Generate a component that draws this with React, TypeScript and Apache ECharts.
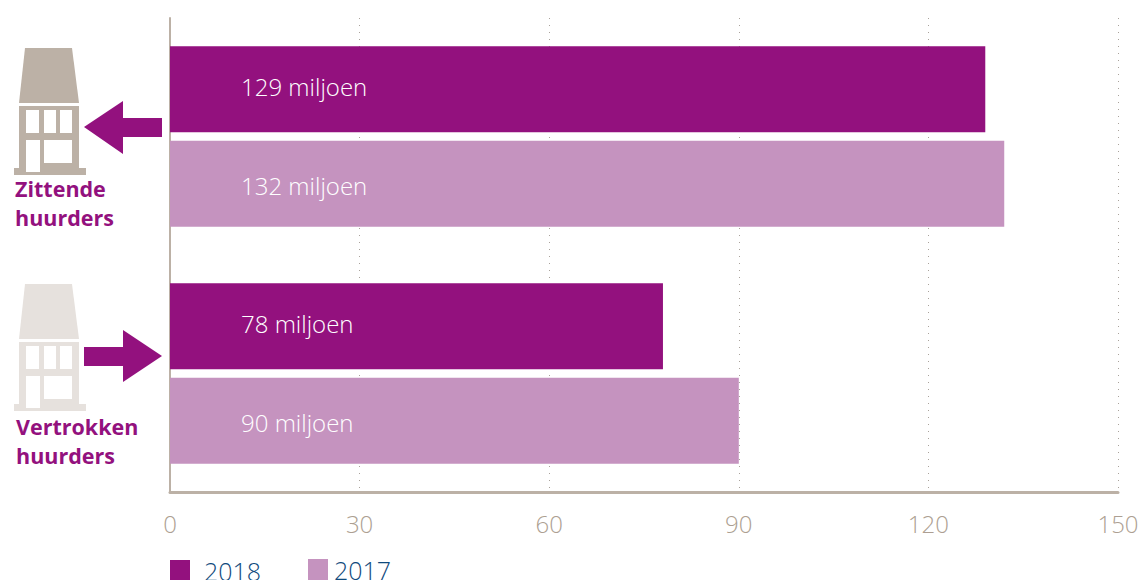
import React, { useEffect, useRef } from "react";
import * as echarts from "echarts";

const categories = ["Zittende huurders", "Vertrokken huurders"];
const values2018 = [129, 78];
const values2017 = [132, 90];
const tickMax = 150;
const tickStep = 30;

const PURPLE = "#93117e";
const LILAC = "#c593bf";
const TAN = "#bcb1a6";
const TICK_TEXT = "#ad9f92";
const PALE = "#e6e1dd";
const BLUE = "#0f4a7d";

// House outline in local units: roof, then facade with window openings cut out.
const houseRoof = "M11 0 L58 0 L65 55 L5 55 Z";
const houseFacade =
  "M5 58 L65 58 L65 120 L72 120 L72 127 L0 127 L0 120 L5 120 Z " +
  "M12 62 L12 85 L25 85 L25 62 Z M30 62 L30 85 L42 85 L42 62 Z M46 62 L46 85 L58 85 L58 62 Z " +
  "M12 92 L12 124 L26 124 L26 92 Z M30 92 L30 115 L58 115 L58 92 Z";
echarts.graphic.registerShape("houseRoof", echarts.graphic.extendPath(houseRoof, {}));
echarts.graphic.registerShape("houseFacade", echarts.graphic.extendPath(houseFacade, {}));

const FONT = "'Open Sans', sans-serif";

const house = (x: number, y: number, fill: string) => ({
  type: "group",
  x,
  y,
  children: [
    { type: "houseRoof", style: { fill } },
    { type: "houseFacade", style: { fill, fillRule: "evenodd" } },
  ],
});

const sideLabel = (text: string, x: number, y: number) => ({
  type: "text",
  x,
  y,
  style: { text, fill: PURPLE, font: `bold 21.5px ${FONT}`, lineHeight: 29 },
});

const valueLabel = (dy: number) => ({
  show: true,
  position: "insideLeft" as const,
  distance: 71,
  offset: [0, dy],
  color: "#ffffff",
  fontFamily: FONT,
  fontWeight: 300,
  fontSize: 24,
  formatter: "{c} miljoen",
});

export default function App() {
  const ref = useRef<HTMLDivElement>(null);
  useEffect(() => {
    const chart = echarts.init(ref.current!, undefined, { renderer: "svg" });
    chart.setOption({
      animation: false,
      grid: { left: 170, top: 18, right: 29, height: 474 },
      legend: [
        {
          data: ["2018"],
          left: 170,
          top: 558,
          padding: 0,
          itemWidth: 20,
          itemHeight: 21,
          icon: "rect",
          textStyle: {
            color: BLUE,
            fontFamily: FONT,
            fontWeight: 300,
            fontSize: 25,
            lineHeight: 17,
            padding: [0, 0, 8, 9],
          },
        },
        {
          data: ["2017"],
          left: 308,
          top: 557,
          padding: 0,
          itemWidth: 20,
          itemHeight: 21,
          icon: "rect",
          textStyle: {
            color: BLUE,
            fontFamily: FONT,
            fontWeight: 300,
            fontSize: 25,
            lineHeight: 17,
            padding: [2, 0, 2, 1],
          },
        },
      ],
      xAxis: {
        type: "value",
        min: 0,
        max: tickMax,
        interval: tickStep,
        axisLine: { show: true, lineStyle: { color: TAN, width: 3 } },
        axisTick: { show: false },
        axisLabel: { color: TICK_TEXT, fontFamily: FONT, fontWeight: 300, fontSize: 24, margin: 19 },
        splitLine: { show: true, lineStyle: { color: "#a9a29b", type: [1, 6], width: 1 } },
      },
      yAxis: {
        type: "category",
        inverse: true,
        data: categories,
        axisLine: { show: true, lineStyle: { color: TAN, width: 2 } },
        axisTick: { show: false },
        axisLabel: { show: false },
      },
      series: [
        {
          name: "2018",
          type: "bar",
          data: values2018,
          barWidth: 86,
          barGap: "10%",
          itemStyle: { color: PURPLE },
          label: valueLabel(-2.5),
        },
        {
          name: "2017",
          type: "bar",
          data: values2017,
          barWidth: 86,
          barGap: "10%",
          itemStyle: { color: LILAC },
          label: valueLabel(2),
        },
      ],
      graphic: [
        house(14, 48, TAN),
        house(14, 284, PALE),
        sideLabel("Zittende\nhuurders", 15, 174),
        sideLabel("Vertrokken\nhuurders", 16, 412),
        {
          type: "polygon",
          shape: { points: [[84, 127], [123, 101], [123, 118], [162, 118], [162, 137], [123, 137], [123, 154]] },
          style: { fill: PURPLE },
        },
        {
          type: "polygon",
          shape: { points: [[162, 356], [123, 330], [123, 347], [84, 347], [84, 366], [123, 366], [123, 382]] },
          style: { fill: PURPLE },
        },
      ],
    });
    return () => chart.dispose();
  }, []);
  return <div ref={ref} style={{ position: "absolute", left: 0, top: 0, width: 1147, height: 580 }} />;
}
